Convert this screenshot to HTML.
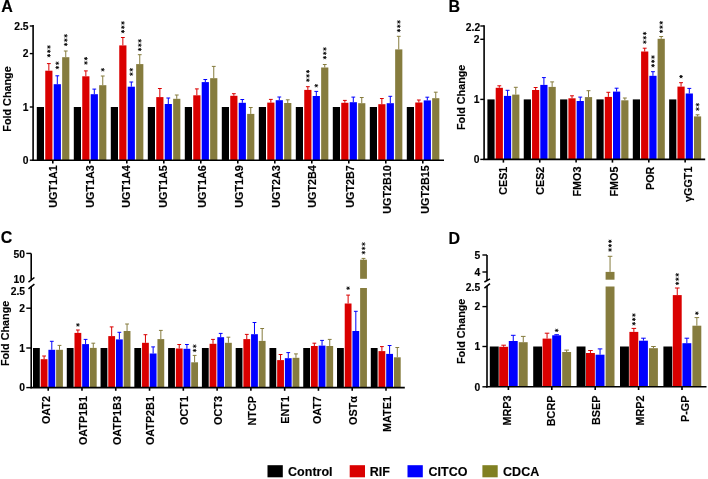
<!DOCTYPE html>
<html><head><meta charset="utf-8"><style>
html,body{margin:0;padding:0;background:#fff;}
svg{display:block;will-change:transform;}
text{font-family:"Liberation Sans",sans-serif;font-weight:bold;fill:#000;stroke:#000;stroke-width:0.15px;}
</style></head><body>
<svg width="708" height="479" viewBox="0 0 708 479">
<rect x="0" y="0" width="708" height="479" fill="#fff"/>
<rect x="36.80" y="107.00" width="7.20" height="53.20" fill="#000"/>
<rect x="45.25" y="70.70" width="7.20" height="89.50" fill="rgb(218,0,0)"/>
<line x1="48.85" y1="63.60" x2="48.85" y2="70.70" stroke="rgb(218,0,0)" stroke-width="1.0"/>
<line x1="46.95" y1="63.60" x2="50.75" y2="63.60" stroke="rgb(218,0,0)" stroke-width="1.0"/>
<rect x="53.70" y="84.20" width="7.20" height="76.00" fill="#0000ff"/>
<line x1="57.30" y1="75.80" x2="57.30" y2="84.20" stroke="#0000ff" stroke-width="1.0"/>
<line x1="55.40" y1="75.80" x2="59.20" y2="75.80" stroke="#0000ff" stroke-width="1.0"/>
<rect x="62.15" y="57.20" width="7.20" height="103.00" fill="rgb(134,124,62)"/>
<line x1="65.75" y1="51.00" x2="65.75" y2="57.20" stroke="rgb(134,124,62)" stroke-width="1.0"/>
<line x1="63.85" y1="51.00" x2="67.65" y2="51.00" stroke="rgb(134,124,62)" stroke-width="1.0"/>
<rect x="73.80" y="107.00" width="7.20" height="53.20" fill="#000"/>
<rect x="82.25" y="76.30" width="7.20" height="83.90" fill="rgb(218,0,0)"/>
<line x1="85.85" y1="70.90" x2="85.85" y2="76.30" stroke="rgb(218,0,0)" stroke-width="1.0"/>
<line x1="83.95" y1="70.90" x2="87.75" y2="70.90" stroke="rgb(218,0,0)" stroke-width="1.0"/>
<rect x="90.70" y="94.20" width="7.20" height="66.00" fill="#0000ff"/>
<line x1="94.30" y1="89.10" x2="94.30" y2="94.20" stroke="#0000ff" stroke-width="1.0"/>
<line x1="92.40" y1="89.10" x2="96.20" y2="89.10" stroke="#0000ff" stroke-width="1.0"/>
<rect x="99.15" y="85.20" width="7.20" height="75.00" fill="rgb(134,124,62)"/>
<line x1="102.75" y1="76.00" x2="102.75" y2="85.20" stroke="rgb(134,124,62)" stroke-width="1.0"/>
<line x1="100.85" y1="76.00" x2="104.65" y2="76.00" stroke="rgb(134,124,62)" stroke-width="1.0"/>
<rect x="110.80" y="107.00" width="7.20" height="53.20" fill="#000"/>
<rect x="119.25" y="45.40" width="7.20" height="114.80" fill="rgb(218,0,0)"/>
<line x1="122.85" y1="37.50" x2="122.85" y2="45.40" stroke="rgb(218,0,0)" stroke-width="1.0"/>
<line x1="120.95" y1="37.50" x2="124.75" y2="37.50" stroke="rgb(218,0,0)" stroke-width="1.0"/>
<rect x="127.70" y="86.70" width="7.20" height="73.50" fill="#0000ff"/>
<line x1="131.30" y1="82.00" x2="131.30" y2="86.70" stroke="#0000ff" stroke-width="1.0"/>
<line x1="129.40" y1="82.00" x2="133.20" y2="82.00" stroke="#0000ff" stroke-width="1.0"/>
<rect x="136.15" y="64.10" width="7.20" height="96.10" fill="rgb(134,124,62)"/>
<line x1="139.75" y1="54.70" x2="139.75" y2="64.10" stroke="rgb(134,124,62)" stroke-width="1.0"/>
<line x1="137.85" y1="54.70" x2="141.65" y2="54.70" stroke="rgb(134,124,62)" stroke-width="1.0"/>
<rect x="147.80" y="107.00" width="7.20" height="53.20" fill="#000"/>
<rect x="156.25" y="97.10" width="7.20" height="63.10" fill="rgb(218,0,0)"/>
<line x1="159.85" y1="88.50" x2="159.85" y2="97.10" stroke="rgb(218,0,0)" stroke-width="1.0"/>
<line x1="157.95" y1="88.50" x2="161.75" y2="88.50" stroke="rgb(218,0,0)" stroke-width="1.0"/>
<rect x="164.70" y="104.00" width="7.20" height="56.20" fill="#0000ff"/>
<line x1="168.30" y1="98.00" x2="168.30" y2="104.00" stroke="#0000ff" stroke-width="1.0"/>
<line x1="166.40" y1="98.00" x2="170.20" y2="98.00" stroke="#0000ff" stroke-width="1.0"/>
<rect x="173.15" y="98.80" width="7.20" height="61.40" fill="rgb(134,124,62)"/>
<line x1="176.75" y1="95.00" x2="176.75" y2="98.80" stroke="rgb(134,124,62)" stroke-width="1.0"/>
<line x1="174.85" y1="95.00" x2="178.65" y2="95.00" stroke="rgb(134,124,62)" stroke-width="1.0"/>
<rect x="184.80" y="107.00" width="7.20" height="53.20" fill="#000"/>
<rect x="193.25" y="95.30" width="7.20" height="64.90" fill="rgb(218,0,0)"/>
<line x1="196.85" y1="88.90" x2="196.85" y2="95.30" stroke="rgb(218,0,0)" stroke-width="1.0"/>
<line x1="194.95" y1="88.90" x2="198.75" y2="88.90" stroke="rgb(218,0,0)" stroke-width="1.0"/>
<rect x="201.70" y="82.10" width="7.20" height="78.10" fill="#0000ff"/>
<line x1="205.30" y1="79.50" x2="205.30" y2="82.10" stroke="#0000ff" stroke-width="1.0"/>
<line x1="203.40" y1="79.50" x2="207.20" y2="79.50" stroke="#0000ff" stroke-width="1.0"/>
<rect x="210.15" y="78.20" width="7.20" height="82.00" fill="rgb(134,124,62)"/>
<line x1="213.75" y1="66.40" x2="213.75" y2="78.20" stroke="rgb(134,124,62)" stroke-width="1.0"/>
<line x1="211.85" y1="66.40" x2="215.65" y2="66.40" stroke="rgb(134,124,62)" stroke-width="1.0"/>
<rect x="221.80" y="107.00" width="7.20" height="53.20" fill="#000"/>
<rect x="230.25" y="95.80" width="7.20" height="64.40" fill="rgb(218,0,0)"/>
<line x1="233.85" y1="93.70" x2="233.85" y2="95.80" stroke="rgb(218,0,0)" stroke-width="1.0"/>
<line x1="231.95" y1="93.70" x2="235.75" y2="93.70" stroke="rgb(218,0,0)" stroke-width="1.0"/>
<rect x="238.70" y="102.80" width="7.20" height="57.40" fill="#0000ff"/>
<line x1="242.30" y1="99.50" x2="242.30" y2="102.80" stroke="#0000ff" stroke-width="1.0"/>
<line x1="240.40" y1="99.50" x2="244.20" y2="99.50" stroke="#0000ff" stroke-width="1.0"/>
<rect x="247.15" y="113.90" width="7.20" height="46.30" fill="rgb(134,124,62)"/>
<line x1="250.75" y1="107.50" x2="250.75" y2="113.90" stroke="rgb(134,124,62)" stroke-width="1.0"/>
<line x1="248.85" y1="107.50" x2="252.65" y2="107.50" stroke="rgb(134,124,62)" stroke-width="1.0"/>
<rect x="258.80" y="107.00" width="7.20" height="53.20" fill="#000"/>
<rect x="267.25" y="102.60" width="7.20" height="57.60" fill="rgb(218,0,0)"/>
<line x1="270.85" y1="99.40" x2="270.85" y2="102.60" stroke="rgb(218,0,0)" stroke-width="1.0"/>
<line x1="268.95" y1="99.40" x2="272.75" y2="99.40" stroke="rgb(218,0,0)" stroke-width="1.0"/>
<rect x="275.70" y="100.20" width="7.20" height="60.00" fill="#0000ff"/>
<line x1="279.30" y1="97.00" x2="279.30" y2="100.20" stroke="#0000ff" stroke-width="1.0"/>
<line x1="277.40" y1="97.00" x2="281.20" y2="97.00" stroke="#0000ff" stroke-width="1.0"/>
<rect x="284.15" y="103.00" width="7.20" height="57.20" fill="rgb(134,124,62)"/>
<line x1="287.75" y1="99.80" x2="287.75" y2="103.00" stroke="rgb(134,124,62)" stroke-width="1.0"/>
<line x1="285.85" y1="99.80" x2="289.65" y2="99.80" stroke="rgb(134,124,62)" stroke-width="1.0"/>
<rect x="295.80" y="107.00" width="7.20" height="53.20" fill="#000"/>
<rect x="304.25" y="89.90" width="7.20" height="70.30" fill="rgb(218,0,0)"/>
<line x1="307.85" y1="86.70" x2="307.85" y2="89.90" stroke="rgb(218,0,0)" stroke-width="1.0"/>
<line x1="305.95" y1="86.70" x2="309.75" y2="86.70" stroke="rgb(218,0,0)" stroke-width="1.0"/>
<rect x="312.70" y="96.00" width="7.20" height="64.20" fill="#0000ff"/>
<line x1="316.30" y1="91.40" x2="316.30" y2="96.00" stroke="#0000ff" stroke-width="1.0"/>
<line x1="314.40" y1="91.40" x2="318.20" y2="91.40" stroke="#0000ff" stroke-width="1.0"/>
<rect x="321.15" y="67.50" width="7.20" height="92.70" fill="rgb(134,124,62)"/>
<line x1="324.75" y1="64.50" x2="324.75" y2="67.50" stroke="rgb(134,124,62)" stroke-width="1.0"/>
<line x1="322.85" y1="64.50" x2="326.65" y2="64.50" stroke="rgb(134,124,62)" stroke-width="1.0"/>
<rect x="332.80" y="107.00" width="7.20" height="53.20" fill="#000"/>
<rect x="341.25" y="102.80" width="7.20" height="57.40" fill="rgb(218,0,0)"/>
<line x1="344.85" y1="100.40" x2="344.85" y2="102.80" stroke="rgb(218,0,0)" stroke-width="1.0"/>
<line x1="342.95" y1="100.40" x2="346.75" y2="100.40" stroke="rgb(218,0,0)" stroke-width="1.0"/>
<rect x="349.70" y="102.20" width="7.20" height="58.00" fill="#0000ff"/>
<line x1="353.30" y1="97.10" x2="353.30" y2="102.20" stroke="#0000ff" stroke-width="1.0"/>
<line x1="351.40" y1="97.10" x2="355.20" y2="97.10" stroke="#0000ff" stroke-width="1.0"/>
<rect x="358.15" y="103.20" width="7.20" height="57.00" fill="rgb(134,124,62)"/>
<line x1="361.75" y1="97.50" x2="361.75" y2="103.20" stroke="rgb(134,124,62)" stroke-width="1.0"/>
<line x1="359.85" y1="97.50" x2="363.65" y2="97.50" stroke="rgb(134,124,62)" stroke-width="1.0"/>
<rect x="369.80" y="107.00" width="7.20" height="53.20" fill="#000"/>
<rect x="378.25" y="104.20" width="7.20" height="56.00" fill="rgb(218,0,0)"/>
<line x1="381.85" y1="98.50" x2="381.85" y2="104.20" stroke="rgb(218,0,0)" stroke-width="1.0"/>
<line x1="379.95" y1="98.50" x2="383.75" y2="98.50" stroke="rgb(218,0,0)" stroke-width="1.0"/>
<rect x="386.70" y="103.20" width="7.20" height="57.00" fill="#0000ff"/>
<line x1="390.30" y1="96.30" x2="390.30" y2="103.20" stroke="#0000ff" stroke-width="1.0"/>
<line x1="388.40" y1="96.30" x2="392.20" y2="96.30" stroke="#0000ff" stroke-width="1.0"/>
<rect x="395.15" y="49.40" width="7.20" height="110.80" fill="rgb(134,124,62)"/>
<line x1="398.75" y1="36.30" x2="398.75" y2="49.40" stroke="rgb(134,124,62)" stroke-width="1.0"/>
<line x1="396.85" y1="36.30" x2="400.65" y2="36.30" stroke="rgb(134,124,62)" stroke-width="1.0"/>
<rect x="406.80" y="107.00" width="7.20" height="53.20" fill="#000"/>
<rect x="415.25" y="102.50" width="7.20" height="57.70" fill="rgb(218,0,0)"/>
<line x1="418.85" y1="100.00" x2="418.85" y2="102.50" stroke="rgb(218,0,0)" stroke-width="1.0"/>
<line x1="416.95" y1="100.00" x2="420.75" y2="100.00" stroke="rgb(218,0,0)" stroke-width="1.0"/>
<rect x="423.70" y="100.40" width="7.20" height="59.80" fill="#0000ff"/>
<line x1="427.30" y1="97.20" x2="427.30" y2="100.40" stroke="#0000ff" stroke-width="1.0"/>
<line x1="425.40" y1="97.20" x2="429.20" y2="97.20" stroke="#0000ff" stroke-width="1.0"/>
<rect x="432.15" y="98.20" width="7.20" height="62.00" fill="rgb(134,124,62)"/>
<line x1="435.75" y1="92.20" x2="435.75" y2="98.20" stroke="rgb(134,124,62)" stroke-width="1.0"/>
<line x1="433.85" y1="92.20" x2="437.65" y2="92.20" stroke="rgb(134,124,62)" stroke-width="1.0"/>
<path d="M47.00 47.00L50.70 47.00M47.93 45.40L49.77 48.60M49.77 45.40L47.93 48.60" stroke="#000" stroke-width="0.85" fill="none"/>
<path d="M47.00 51.30L50.70 51.30M47.93 49.70L49.77 52.90M49.77 49.70L47.93 52.90" stroke="#000" stroke-width="0.85" fill="none"/>
<path d="M47.00 55.60L50.70 55.60M47.93 54.00L49.77 57.20M49.77 54.00L47.93 57.20" stroke="#000" stroke-width="0.85" fill="none"/>
<path d="M55.45 63.25L59.15 63.25M56.38 61.65L58.22 64.85M58.22 61.65L56.38 64.85" stroke="#000" stroke-width="0.85" fill="none"/>
<path d="M55.45 67.55L59.15 67.55M56.38 65.95L58.22 69.15M58.22 65.95L56.38 69.15" stroke="#000" stroke-width="0.85" fill="none"/>
<path d="M63.90 35.85L67.60 35.85M64.83 34.25L66.67 37.45M66.67 34.25L64.83 37.45" stroke="#000" stroke-width="0.85" fill="none"/>
<path d="M63.90 40.15L67.60 40.15M64.83 38.55L66.67 41.75M66.67 38.55L64.83 41.75" stroke="#000" stroke-width="0.85" fill="none"/>
<path d="M63.90 44.45L67.60 44.45M64.83 42.85L66.67 46.05M66.67 42.85L64.83 46.05" stroke="#000" stroke-width="0.85" fill="none"/>
<path d="M84.00 58.65L87.70 58.65M84.92 57.05L86.77 60.25M86.77 57.05L84.92 60.25" stroke="#000" stroke-width="0.85" fill="none"/>
<path d="M84.00 62.95L87.70 62.95M84.92 61.35L86.77 64.55M86.77 61.35L84.92 64.55" stroke="#000" stroke-width="0.85" fill="none"/>
<path d="M100.90 69.75L104.60 69.75M101.82 68.15L103.67 71.35M103.67 68.15L101.82 71.35" stroke="#000" stroke-width="0.85" fill="none"/>
<path d="M121.00 22.95L124.70 22.95M121.92 21.35L123.77 24.55M123.77 21.35L121.92 24.55" stroke="#000" stroke-width="0.85" fill="none"/>
<path d="M121.00 27.25L124.70 27.25M121.92 25.65L123.77 28.85M123.77 25.65L121.92 28.85" stroke="#000" stroke-width="0.85" fill="none"/>
<path d="M121.00 31.55L124.70 31.55M121.92 29.95L123.77 33.15M123.77 29.95L121.92 33.15" stroke="#000" stroke-width="0.85" fill="none"/>
<path d="M129.45 69.80L133.15 69.80M130.38 68.20L132.23 71.40M132.23 68.20L130.38 71.40" stroke="#000" stroke-width="0.85" fill="none"/>
<path d="M129.45 74.10L133.15 74.10M130.38 72.50L132.23 75.70M132.23 72.50L130.38 75.70" stroke="#000" stroke-width="0.85" fill="none"/>
<path d="M137.90 40.85L141.60 40.85M138.82 39.25L140.68 42.45M140.68 39.25L138.82 42.45" stroke="#000" stroke-width="0.85" fill="none"/>
<path d="M137.90 45.15L141.60 45.15M138.82 43.55L140.68 46.75M140.68 43.55L138.82 46.75" stroke="#000" stroke-width="0.85" fill="none"/>
<path d="M137.90 49.45L141.60 49.45M138.82 47.85L140.68 51.05M140.68 47.85L138.82 51.05" stroke="#000" stroke-width="0.85" fill="none"/>
<path d="M306.00 71.60L309.70 71.60M306.93 70.00L308.78 73.20M308.78 70.00L306.93 73.20" stroke="#000" stroke-width="0.85" fill="none"/>
<path d="M306.00 75.90L309.70 75.90M306.93 74.30L308.78 77.50M308.78 74.30L306.93 77.50" stroke="#000" stroke-width="0.85" fill="none"/>
<path d="M306.00 80.20L309.70 80.20M306.93 78.60L308.78 81.80M308.78 78.60L306.93 81.80" stroke="#000" stroke-width="0.85" fill="none"/>
<path d="M314.45 85.70L318.15 85.70M315.38 84.10L317.23 87.30M317.23 84.10L315.38 87.30" stroke="#000" stroke-width="0.85" fill="none"/>
<path d="M322.90 49.00L326.60 49.00M323.83 47.40L325.68 50.60M325.68 47.40L323.83 50.60" stroke="#000" stroke-width="0.85" fill="none"/>
<path d="M322.90 53.30L326.60 53.30M323.83 51.70L325.68 54.90M325.68 51.70L323.83 54.90" stroke="#000" stroke-width="0.85" fill="none"/>
<path d="M322.90 57.60L326.60 57.60M323.83 56.00L325.68 59.20M325.68 56.00L323.83 59.20" stroke="#000" stroke-width="0.85" fill="none"/>
<path d="M396.90 21.95L400.60 21.95M397.83 20.35L399.68 23.55M399.68 20.35L397.83 23.55" stroke="#000" stroke-width="0.85" fill="none"/>
<path d="M396.90 26.25L400.60 26.25M397.83 24.65L399.68 27.85M399.68 24.65L397.83 27.85" stroke="#000" stroke-width="0.85" fill="none"/>
<path d="M396.90 30.55L400.60 30.55M397.83 28.95L399.68 32.15M399.68 28.95L397.83 32.15" stroke="#000" stroke-width="0.85" fill="none"/>
<line x1="33.10" y1="25.00" x2="33.10" y2="161.00" stroke="#000" stroke-width="1.6"/>
<line x1="32.30" y1="160.20" x2="444.00" y2="160.20" stroke="#000" stroke-width="1.6"/>
<text x="28.50" y="29.70" font-size="10.3" text-anchor="end">2.5</text>
<text x="28.50" y="57.30" font-size="10.3" text-anchor="end">2</text>
<text x="28.50" y="110.70" font-size="10.3" text-anchor="end">1</text>
<text x="28.50" y="163.90" font-size="10.3" text-anchor="end">0</text>
<line x1="29.80" y1="26.00" x2="33.10" y2="26.00" stroke="#000" stroke-width="1.4"/>
<line x1="29.80" y1="53.60" x2="33.10" y2="53.60" stroke="#000" stroke-width="1.4"/>
<line x1="29.80" y1="107.00" x2="33.10" y2="107.00" stroke="#000" stroke-width="1.4"/>
<line x1="29.80" y1="160.20" x2="33.10" y2="160.20" stroke="#000" stroke-width="1.4"/>
<line x1="52.80" y1="160.20" x2="52.80" y2="163.40" stroke="#000" stroke-width="1.6"/>
<text x="56.70" y="165.20" font-size="10.8" text-anchor="end" transform="rotate(-90 56.70 165.20)">UGT1A1</text>
<line x1="89.80" y1="160.20" x2="89.80" y2="163.40" stroke="#000" stroke-width="1.6"/>
<text x="93.90" y="165.20" font-size="10.8" text-anchor="end" transform="rotate(-90 93.90 165.20)">UGT1A3</text>
<line x1="126.80" y1="160.20" x2="126.80" y2="163.40" stroke="#000" stroke-width="1.6"/>
<text x="130.40" y="165.20" font-size="10.8" text-anchor="end" transform="rotate(-90 130.40 165.20)">UGT1A4</text>
<line x1="163.80" y1="160.20" x2="163.80" y2="163.40" stroke="#000" stroke-width="1.6"/>
<text x="166.60" y="165.20" font-size="10.8" text-anchor="end" transform="rotate(-90 166.60 165.20)">UGT1A5</text>
<line x1="200.80" y1="160.20" x2="200.80" y2="163.40" stroke="#000" stroke-width="1.6"/>
<text x="205.60" y="165.20" font-size="10.8" text-anchor="end" transform="rotate(-90 205.60 165.20)">UGT1A6</text>
<line x1="237.80" y1="160.20" x2="237.80" y2="163.40" stroke="#000" stroke-width="1.6"/>
<text x="242.60" y="165.20" font-size="10.8" text-anchor="end" transform="rotate(-90 242.60 165.20)">UGT1A9</text>
<line x1="274.80" y1="160.20" x2="274.80" y2="163.40" stroke="#000" stroke-width="1.6"/>
<text x="279.60" y="165.20" font-size="10.8" text-anchor="end" transform="rotate(-90 279.60 165.20)">UGT2A3</text>
<line x1="311.80" y1="160.20" x2="311.80" y2="163.40" stroke="#000" stroke-width="1.6"/>
<text x="316.00" y="165.20" font-size="10.8" text-anchor="end" transform="rotate(-90 316.00 165.20)">UGT2B4</text>
<line x1="348.80" y1="160.20" x2="348.80" y2="163.40" stroke="#000" stroke-width="1.6"/>
<text x="353.60" y="165.20" font-size="10.8" text-anchor="end" transform="rotate(-90 353.60 165.20)">UGT2B7</text>
<line x1="385.80" y1="160.20" x2="385.80" y2="163.40" stroke="#000" stroke-width="1.6"/>
<text x="390.60" y="165.20" font-size="10.8" text-anchor="end" transform="rotate(-90 390.60 165.20)">UGT2B10</text>
<line x1="422.80" y1="160.20" x2="422.80" y2="163.40" stroke="#000" stroke-width="1.6"/>
<text x="428.90" y="165.20" font-size="10.8" text-anchor="end" transform="rotate(-90 428.90 165.20)">UGT2B15</text>
<text x="11.40" y="99.00" font-size="10.8" text-anchor="middle" transform="rotate(-90 11.40 99.00)">Fold Change</text>
<text x="1.30" y="12.40" font-size="16" text-anchor="start">A</text>
<rect x="487.40" y="99.40" width="7.20" height="59.80" fill="#000"/>
<rect x="495.70" y="87.80" width="7.20" height="71.40" fill="rgb(218,0,0)"/>
<line x1="499.30" y1="85.80" x2="499.30" y2="87.80" stroke="rgb(218,0,0)" stroke-width="1.0"/>
<line x1="497.35" y1="85.80" x2="501.25" y2="85.80" stroke="rgb(218,0,0)" stroke-width="1.0"/>
<rect x="503.95" y="95.90" width="7.20" height="63.30" fill="#0000ff"/>
<line x1="507.55" y1="90.30" x2="507.55" y2="95.90" stroke="#0000ff" stroke-width="1.0"/>
<line x1="505.60" y1="90.30" x2="509.50" y2="90.30" stroke="#0000ff" stroke-width="1.0"/>
<rect x="512.20" y="94.60" width="7.20" height="64.60" fill="rgb(134,124,62)"/>
<line x1="515.80" y1="87.30" x2="515.80" y2="94.60" stroke="rgb(134,124,62)" stroke-width="1.0"/>
<line x1="513.85" y1="87.30" x2="517.75" y2="87.30" stroke="rgb(134,124,62)" stroke-width="1.0"/>
<rect x="523.75" y="99.40" width="7.20" height="59.80" fill="#000"/>
<rect x="532.05" y="90.00" width="7.20" height="69.20" fill="rgb(218,0,0)"/>
<line x1="535.65" y1="87.50" x2="535.65" y2="90.00" stroke="rgb(218,0,0)" stroke-width="1.0"/>
<line x1="533.70" y1="87.50" x2="537.60" y2="87.50" stroke="rgb(218,0,0)" stroke-width="1.0"/>
<rect x="540.30" y="84.90" width="7.20" height="74.30" fill="#0000ff"/>
<line x1="543.90" y1="77.60" x2="543.90" y2="84.90" stroke="#0000ff" stroke-width="1.0"/>
<line x1="541.95" y1="77.60" x2="545.85" y2="77.60" stroke="#0000ff" stroke-width="1.0"/>
<rect x="548.55" y="86.90" width="7.20" height="72.30" fill="rgb(134,124,62)"/>
<line x1="552.15" y1="81.90" x2="552.15" y2="86.90" stroke="rgb(134,124,62)" stroke-width="1.0"/>
<line x1="550.20" y1="81.90" x2="554.10" y2="81.90" stroke="rgb(134,124,62)" stroke-width="1.0"/>
<rect x="560.10" y="99.40" width="7.20" height="59.80" fill="#000"/>
<rect x="568.40" y="98.30" width="7.20" height="60.90" fill="rgb(218,0,0)"/>
<line x1="572.00" y1="95.80" x2="572.00" y2="98.30" stroke="rgb(218,0,0)" stroke-width="1.0"/>
<line x1="570.05" y1="95.80" x2="573.95" y2="95.80" stroke="rgb(218,0,0)" stroke-width="1.0"/>
<rect x="576.65" y="101.00" width="7.20" height="58.20" fill="#0000ff"/>
<line x1="580.25" y1="97.10" x2="580.25" y2="101.00" stroke="#0000ff" stroke-width="1.0"/>
<line x1="578.30" y1="97.10" x2="582.20" y2="97.10" stroke="#0000ff" stroke-width="1.0"/>
<rect x="584.90" y="97.10" width="7.20" height="62.10" fill="rgb(134,124,62)"/>
<line x1="588.50" y1="90.70" x2="588.50" y2="97.10" stroke="rgb(134,124,62)" stroke-width="1.0"/>
<line x1="586.55" y1="90.70" x2="590.45" y2="90.70" stroke="rgb(134,124,62)" stroke-width="1.0"/>
<rect x="596.45" y="99.40" width="7.20" height="59.80" fill="#000"/>
<rect x="604.75" y="96.90" width="7.20" height="62.30" fill="rgb(218,0,0)"/>
<line x1="608.35" y1="92.30" x2="608.35" y2="96.90" stroke="rgb(218,0,0)" stroke-width="1.0"/>
<line x1="606.40" y1="92.30" x2="610.30" y2="92.30" stroke="rgb(218,0,0)" stroke-width="1.0"/>
<rect x="613.00" y="91.60" width="7.20" height="67.60" fill="#0000ff"/>
<line x1="616.60" y1="88.20" x2="616.60" y2="91.60" stroke="#0000ff" stroke-width="1.0"/>
<line x1="614.65" y1="88.20" x2="618.55" y2="88.20" stroke="#0000ff" stroke-width="1.0"/>
<rect x="621.25" y="100.30" width="7.20" height="58.90" fill="rgb(134,124,62)"/>
<line x1="624.85" y1="98.00" x2="624.85" y2="100.30" stroke="rgb(134,124,62)" stroke-width="1.0"/>
<line x1="622.90" y1="98.00" x2="626.80" y2="98.00" stroke="rgb(134,124,62)" stroke-width="1.0"/>
<rect x="632.80" y="99.40" width="7.20" height="59.80" fill="#000"/>
<rect x="641.10" y="51.50" width="7.20" height="107.70" fill="rgb(218,0,0)"/>
<line x1="644.70" y1="48.20" x2="644.70" y2="51.50" stroke="rgb(218,0,0)" stroke-width="1.0"/>
<line x1="642.75" y1="48.20" x2="646.65" y2="48.20" stroke="rgb(218,0,0)" stroke-width="1.0"/>
<rect x="649.35" y="75.80" width="7.20" height="83.40" fill="#0000ff"/>
<line x1="652.95" y1="71.70" x2="652.95" y2="75.80" stroke="#0000ff" stroke-width="1.0"/>
<line x1="651.00" y1="71.70" x2="654.90" y2="71.70" stroke="#0000ff" stroke-width="1.0"/>
<rect x="657.60" y="38.80" width="7.20" height="120.40" fill="rgb(134,124,62)"/>
<line x1="661.20" y1="36.50" x2="661.20" y2="38.80" stroke="rgb(134,124,62)" stroke-width="1.0"/>
<line x1="659.25" y1="36.50" x2="663.15" y2="36.50" stroke="rgb(134,124,62)" stroke-width="1.0"/>
<rect x="669.15" y="99.40" width="7.20" height="59.80" fill="#000"/>
<rect x="677.45" y="86.60" width="7.20" height="72.60" fill="rgb(218,0,0)"/>
<line x1="681.05" y1="82.70" x2="681.05" y2="86.60" stroke="rgb(218,0,0)" stroke-width="1.0"/>
<line x1="679.10" y1="82.70" x2="683.00" y2="82.70" stroke="rgb(218,0,0)" stroke-width="1.0"/>
<rect x="685.70" y="93.50" width="7.20" height="65.70" fill="#0000ff"/>
<line x1="689.30" y1="88.40" x2="689.30" y2="93.50" stroke="#0000ff" stroke-width="1.0"/>
<line x1="687.35" y1="88.40" x2="691.25" y2="88.40" stroke="#0000ff" stroke-width="1.0"/>
<rect x="693.95" y="116.40" width="7.20" height="42.80" fill="rgb(134,124,62)"/>
<line x1="697.55" y1="114.80" x2="697.55" y2="116.40" stroke="rgb(134,124,62)" stroke-width="1.0"/>
<line x1="695.60" y1="114.80" x2="699.50" y2="114.80" stroke="rgb(134,124,62)" stroke-width="1.0"/>
<path d="M642.85 33.50L646.55 33.50M643.77 31.90L645.62 35.10M645.62 31.90L643.77 35.10" stroke="#000" stroke-width="0.85" fill="none"/>
<path d="M642.85 37.80L646.55 37.80M643.77 36.20L645.62 39.40M645.62 36.20L643.77 39.40" stroke="#000" stroke-width="0.85" fill="none"/>
<path d="M642.85 42.10L646.55 42.10M643.77 40.50L645.62 43.70M645.62 40.50L643.77 43.70" stroke="#000" stroke-width="0.85" fill="none"/>
<path d="M651.10 57.05L654.80 57.05M652.02 55.45L653.87 58.65M653.87 55.45L652.02 58.65" stroke="#000" stroke-width="0.85" fill="none"/>
<path d="M651.10 61.35L654.80 61.35M652.02 59.75L653.87 62.95M653.87 59.75L652.02 62.95" stroke="#000" stroke-width="0.85" fill="none"/>
<path d="M651.10 65.65L654.80 65.65M652.02 64.05L653.87 67.25M653.87 64.05L652.02 67.25" stroke="#000" stroke-width="0.85" fill="none"/>
<path d="M659.35 22.80L663.05 22.80M660.27 21.20L662.12 24.40M662.12 21.20L660.27 24.40" stroke="#000" stroke-width="0.85" fill="none"/>
<path d="M659.35 27.10L663.05 27.10M660.27 25.50L662.12 28.70M662.12 25.50L660.27 28.70" stroke="#000" stroke-width="0.85" fill="none"/>
<path d="M659.35 31.40L663.05 31.40M660.27 29.80L662.12 33.00M662.12 29.80L660.27 33.00" stroke="#000" stroke-width="0.85" fill="none"/>
<path d="M679.20 76.60L682.90 76.60M680.12 75.00L681.97 78.20M681.97 75.00L680.12 78.20" stroke="#000" stroke-width="0.85" fill="none"/>
<path d="M695.70 104.75L699.40 104.75M696.62 103.15L698.47 106.35M698.47 103.15L696.62 106.35" stroke="#000" stroke-width="0.85" fill="none"/>
<path d="M695.70 109.05L699.40 109.05M696.62 107.45L698.47 110.65M698.47 107.45L696.62 110.65" stroke="#000" stroke-width="0.85" fill="none"/>
<line x1="484.10" y1="25.30" x2="484.10" y2="160.00" stroke="#000" stroke-width="1.6"/>
<line x1="483.30" y1="159.40" x2="705.20" y2="159.40" stroke="#000" stroke-width="1.6"/>
<text x="480.20" y="30.90" font-size="10.3" text-anchor="end">2.2</text>
<text x="479.50" y="43.00" font-size="10.3" text-anchor="end">2</text>
<text x="479.50" y="103.10" font-size="10.3" text-anchor="end">1</text>
<text x="479.50" y="163.30" font-size="10.3" text-anchor="end">0</text>
<line x1="480.30" y1="26.00" x2="484.10" y2="26.00" stroke="#000" stroke-width="1.4"/>
<line x1="480.30" y1="39.30" x2="484.10" y2="39.30" stroke="#000" stroke-width="1.4"/>
<line x1="480.30" y1="99.40" x2="484.10" y2="99.40" stroke="#000" stroke-width="1.4"/>
<line x1="480.30" y1="159.40" x2="484.10" y2="159.40" stroke="#000" stroke-width="1.4"/>
<line x1="503.40" y1="159.40" x2="503.40" y2="162.60" stroke="#000" stroke-width="1.6"/>
<text x="506.90" y="166.60" font-size="10.8" text-anchor="end" transform="rotate(-90 506.90 166.60)">CES1</text>
<line x1="539.75" y1="159.40" x2="539.75" y2="162.60" stroke="#000" stroke-width="1.6"/>
<text x="544.45" y="166.60" font-size="10.8" text-anchor="end" transform="rotate(-90 544.45 166.60)">CES2</text>
<line x1="576.10" y1="159.40" x2="576.10" y2="162.60" stroke="#000" stroke-width="1.6"/>
<text x="581.30" y="166.60" font-size="10.8" text-anchor="end" transform="rotate(-90 581.30 166.60)">FMO3</text>
<line x1="612.45" y1="159.40" x2="612.45" y2="162.60" stroke="#000" stroke-width="1.6"/>
<text x="618.05" y="166.60" font-size="10.8" text-anchor="end" transform="rotate(-90 618.05 166.60)">FMO5</text>
<line x1="648.80" y1="159.40" x2="648.80" y2="162.60" stroke="#000" stroke-width="1.6"/>
<text x="653.60" y="166.60" font-size="10.8" text-anchor="end" transform="rotate(-90 653.60 166.60)">POR</text>
<line x1="685.15" y1="159.40" x2="685.15" y2="162.60" stroke="#000" stroke-width="1.6"/>
<text x="691.85" y="166.60" font-size="10.8" text-anchor="end" transform="rotate(-90 691.85 166.60)">&#947;GGT1</text>
<text x="465.30" y="97.30" font-size="10.8" text-anchor="middle" transform="rotate(-90 465.30 97.30)">Fold Change</text>
<text x="448.40" y="12.20" font-size="16" text-anchor="start">B</text>
<rect x="33.00" y="348.00" width="6.80" height="39.50" fill="#000"/>
<rect x="40.70" y="359.20" width="6.80" height="28.30" fill="rgb(218,0,0)"/>
<line x1="44.10" y1="356.00" x2="44.10" y2="359.20" stroke="rgb(218,0,0)" stroke-width="1.0"/>
<line x1="42.20" y1="356.00" x2="46.00" y2="356.00" stroke="rgb(218,0,0)" stroke-width="1.0"/>
<rect x="48.40" y="349.80" width="6.80" height="37.70" fill="#0000ff"/>
<line x1="51.80" y1="341.30" x2="51.80" y2="349.80" stroke="#0000ff" stroke-width="1.0"/>
<line x1="49.90" y1="341.30" x2="53.70" y2="341.30" stroke="#0000ff" stroke-width="1.0"/>
<rect x="56.10" y="349.80" width="6.80" height="37.70" fill="rgb(134,124,62)"/>
<line x1="59.50" y1="345.40" x2="59.50" y2="349.80" stroke="rgb(134,124,62)" stroke-width="1.0"/>
<line x1="57.60" y1="345.40" x2="61.40" y2="345.40" stroke="rgb(134,124,62)" stroke-width="1.0"/>
<rect x="66.78" y="348.00" width="6.80" height="39.50" fill="#000"/>
<rect x="74.48" y="332.90" width="6.80" height="54.60" fill="rgb(218,0,0)"/>
<line x1="77.88" y1="330.00" x2="77.88" y2="332.90" stroke="rgb(218,0,0)" stroke-width="1.0"/>
<line x1="75.98" y1="330.00" x2="79.78" y2="330.00" stroke="rgb(218,0,0)" stroke-width="1.0"/>
<rect x="82.18" y="344.10" width="6.80" height="43.40" fill="#0000ff"/>
<line x1="85.58" y1="339.40" x2="85.58" y2="344.10" stroke="#0000ff" stroke-width="1.0"/>
<line x1="83.68" y1="339.40" x2="87.48" y2="339.40" stroke="#0000ff" stroke-width="1.0"/>
<rect x="89.88" y="347.90" width="6.80" height="39.60" fill="rgb(134,124,62)"/>
<line x1="93.28" y1="343.20" x2="93.28" y2="347.90" stroke="rgb(134,124,62)" stroke-width="1.0"/>
<line x1="91.38" y1="343.20" x2="95.18" y2="343.20" stroke="rgb(134,124,62)" stroke-width="1.0"/>
<rect x="100.56" y="348.00" width="6.80" height="39.50" fill="#000"/>
<rect x="108.26" y="336.10" width="6.80" height="51.40" fill="rgb(218,0,0)"/>
<line x1="111.66" y1="326.90" x2="111.66" y2="336.10" stroke="rgb(218,0,0)" stroke-width="1.0"/>
<line x1="109.76" y1="326.90" x2="113.56" y2="326.90" stroke="rgb(218,0,0)" stroke-width="1.0"/>
<rect x="115.96" y="339.40" width="6.80" height="48.10" fill="#0000ff"/>
<line x1="119.36" y1="332.30" x2="119.36" y2="339.40" stroke="#0000ff" stroke-width="1.0"/>
<line x1="117.46" y1="332.30" x2="121.26" y2="332.30" stroke="#0000ff" stroke-width="1.0"/>
<rect x="123.66" y="331.00" width="6.80" height="56.50" fill="rgb(134,124,62)"/>
<line x1="127.06" y1="324.00" x2="127.06" y2="331.00" stroke="rgb(134,124,62)" stroke-width="1.0"/>
<line x1="125.16" y1="324.00" x2="128.96" y2="324.00" stroke="rgb(134,124,62)" stroke-width="1.0"/>
<rect x="134.34" y="348.00" width="6.80" height="39.50" fill="#000"/>
<rect x="142.04" y="342.80" width="6.80" height="44.70" fill="rgb(218,0,0)"/>
<line x1="145.44" y1="334.70" x2="145.44" y2="342.80" stroke="rgb(218,0,0)" stroke-width="1.0"/>
<line x1="143.54" y1="334.70" x2="147.34" y2="334.70" stroke="rgb(218,0,0)" stroke-width="1.0"/>
<rect x="149.74" y="353.50" width="6.80" height="34.00" fill="#0000ff"/>
<line x1="153.14" y1="346.90" x2="153.14" y2="353.50" stroke="#0000ff" stroke-width="1.0"/>
<line x1="151.24" y1="346.90" x2="155.04" y2="346.90" stroke="#0000ff" stroke-width="1.0"/>
<rect x="157.44" y="339.10" width="6.80" height="48.40" fill="rgb(134,124,62)"/>
<line x1="160.84" y1="330.40" x2="160.84" y2="339.10" stroke="rgb(134,124,62)" stroke-width="1.0"/>
<line x1="158.94" y1="330.40" x2="162.74" y2="330.40" stroke="rgb(134,124,62)" stroke-width="1.0"/>
<rect x="168.12" y="348.00" width="6.80" height="39.50" fill="#000"/>
<rect x="175.82" y="348.50" width="6.80" height="39.00" fill="rgb(218,0,0)"/>
<line x1="179.22" y1="344.50" x2="179.22" y2="348.50" stroke="rgb(218,0,0)" stroke-width="1.0"/>
<line x1="177.32" y1="344.50" x2="181.12" y2="344.50" stroke="rgb(218,0,0)" stroke-width="1.0"/>
<rect x="183.52" y="348.80" width="6.80" height="38.70" fill="#0000ff"/>
<line x1="186.92" y1="344.50" x2="186.92" y2="348.80" stroke="#0000ff" stroke-width="1.0"/>
<line x1="185.02" y1="344.50" x2="188.82" y2="344.50" stroke="#0000ff" stroke-width="1.0"/>
<rect x="191.22" y="362.30" width="6.80" height="25.20" fill="rgb(134,124,62)"/>
<line x1="194.62" y1="355.40" x2="194.62" y2="362.30" stroke="rgb(134,124,62)" stroke-width="1.0"/>
<line x1="192.72" y1="355.40" x2="196.52" y2="355.40" stroke="rgb(134,124,62)" stroke-width="1.0"/>
<rect x="201.90" y="348.00" width="6.80" height="39.50" fill="#000"/>
<rect x="209.60" y="343.80" width="6.80" height="43.70" fill="rgb(218,0,0)"/>
<line x1="213.00" y1="339.40" x2="213.00" y2="343.80" stroke="rgb(218,0,0)" stroke-width="1.0"/>
<line x1="211.10" y1="339.40" x2="214.90" y2="339.40" stroke="rgb(218,0,0)" stroke-width="1.0"/>
<rect x="217.30" y="337.20" width="6.80" height="50.30" fill="#0000ff"/>
<line x1="220.70" y1="333.40" x2="220.70" y2="337.20" stroke="#0000ff" stroke-width="1.0"/>
<line x1="218.80" y1="333.40" x2="222.60" y2="333.40" stroke="#0000ff" stroke-width="1.0"/>
<rect x="225.00" y="342.80" width="6.80" height="44.70" fill="rgb(134,124,62)"/>
<line x1="228.40" y1="337.20" x2="228.40" y2="342.80" stroke="rgb(134,124,62)" stroke-width="1.0"/>
<line x1="226.50" y1="337.20" x2="230.30" y2="337.20" stroke="rgb(134,124,62)" stroke-width="1.0"/>
<rect x="235.68" y="348.00" width="6.80" height="39.50" fill="#000"/>
<rect x="243.38" y="339.10" width="6.80" height="48.40" fill="rgb(218,0,0)"/>
<line x1="246.78" y1="334.40" x2="246.78" y2="339.10" stroke="rgb(218,0,0)" stroke-width="1.0"/>
<line x1="244.88" y1="334.40" x2="248.68" y2="334.40" stroke="rgb(218,0,0)" stroke-width="1.0"/>
<rect x="251.08" y="334.20" width="6.80" height="53.30" fill="#0000ff"/>
<line x1="254.48" y1="322.50" x2="254.48" y2="334.20" stroke="#0000ff" stroke-width="1.0"/>
<line x1="252.58" y1="322.50" x2="256.38" y2="322.50" stroke="#0000ff" stroke-width="1.0"/>
<rect x="258.78" y="340.90" width="6.80" height="46.60" fill="rgb(134,124,62)"/>
<line x1="262.18" y1="328.50" x2="262.18" y2="340.90" stroke="rgb(134,124,62)" stroke-width="1.0"/>
<line x1="260.28" y1="328.50" x2="264.08" y2="328.50" stroke="rgb(134,124,62)" stroke-width="1.0"/>
<rect x="269.46" y="348.00" width="6.80" height="39.50" fill="#000"/>
<rect x="277.16" y="360.10" width="6.80" height="27.40" fill="rgb(218,0,0)"/>
<line x1="280.56" y1="354.50" x2="280.56" y2="360.10" stroke="rgb(218,0,0)" stroke-width="1.0"/>
<line x1="278.66" y1="354.50" x2="282.46" y2="354.50" stroke="rgb(218,0,0)" stroke-width="1.0"/>
<rect x="284.86" y="358.20" width="6.80" height="29.30" fill="#0000ff"/>
<line x1="288.26" y1="352.60" x2="288.26" y2="358.20" stroke="#0000ff" stroke-width="1.0"/>
<line x1="286.36" y1="352.60" x2="290.16" y2="352.60" stroke="#0000ff" stroke-width="1.0"/>
<rect x="292.56" y="357.80" width="6.80" height="29.70" fill="rgb(134,124,62)"/>
<line x1="295.96" y1="353.90" x2="295.96" y2="357.80" stroke="rgb(134,124,62)" stroke-width="1.0"/>
<line x1="294.06" y1="353.90" x2="297.86" y2="353.90" stroke="rgb(134,124,62)" stroke-width="1.0"/>
<rect x="303.24" y="348.00" width="6.80" height="39.50" fill="#000"/>
<rect x="310.94" y="346.00" width="6.80" height="41.50" fill="rgb(218,0,0)"/>
<line x1="314.34" y1="343.20" x2="314.34" y2="346.00" stroke="rgb(218,0,0)" stroke-width="1.0"/>
<line x1="312.44" y1="343.20" x2="316.24" y2="343.20" stroke="rgb(218,0,0)" stroke-width="1.0"/>
<rect x="318.64" y="345.60" width="6.80" height="41.90" fill="#0000ff"/>
<line x1="322.04" y1="340.40" x2="322.04" y2="345.60" stroke="#0000ff" stroke-width="1.0"/>
<line x1="320.14" y1="340.40" x2="323.94" y2="340.40" stroke="#0000ff" stroke-width="1.0"/>
<rect x="326.34" y="346.00" width="6.80" height="41.50" fill="rgb(134,124,62)"/>
<line x1="329.74" y1="339.40" x2="329.74" y2="346.00" stroke="rgb(134,124,62)" stroke-width="1.0"/>
<line x1="327.84" y1="339.40" x2="331.64" y2="339.40" stroke="rgb(134,124,62)" stroke-width="1.0"/>
<rect x="337.02" y="348.00" width="6.80" height="39.50" fill="#000"/>
<rect x="344.72" y="303.50" width="6.80" height="84.00" fill="rgb(218,0,0)"/>
<line x1="348.12" y1="295.10" x2="348.12" y2="303.50" stroke="rgb(218,0,0)" stroke-width="1.0"/>
<line x1="346.22" y1="295.10" x2="350.02" y2="295.10" stroke="rgb(218,0,0)" stroke-width="1.0"/>
<rect x="352.42" y="331.00" width="6.80" height="56.50" fill="#0000ff"/>
<line x1="355.82" y1="311.30" x2="355.82" y2="331.00" stroke="#0000ff" stroke-width="1.0"/>
<line x1="353.92" y1="311.30" x2="357.72" y2="311.30" stroke="#0000ff" stroke-width="1.0"/>
<rect x="360.12" y="259.70" width="6.80" height="127.80" fill="rgb(134,124,62)"/>
<line x1="363.52" y1="258.40" x2="363.52" y2="259.70" stroke="rgb(134,124,62)" stroke-width="1.0"/>
<line x1="361.62" y1="258.40" x2="365.42" y2="258.40" stroke="rgb(134,124,62)" stroke-width="1.0"/>
<rect x="370.80" y="348.00" width="6.80" height="39.50" fill="#000"/>
<rect x="378.50" y="351.10" width="6.80" height="36.40" fill="rgb(218,0,0)"/>
<line x1="381.90" y1="346.60" x2="381.90" y2="351.10" stroke="rgb(218,0,0)" stroke-width="1.0"/>
<line x1="380.00" y1="346.60" x2="383.80" y2="346.60" stroke="rgb(218,0,0)" stroke-width="1.0"/>
<rect x="386.20" y="353.90" width="6.80" height="33.60" fill="#0000ff"/>
<line x1="389.60" y1="345.50" x2="389.60" y2="353.90" stroke="#0000ff" stroke-width="1.0"/>
<line x1="387.70" y1="345.50" x2="391.50" y2="345.50" stroke="#0000ff" stroke-width="1.0"/>
<rect x="393.90" y="357.30" width="6.80" height="30.20" fill="rgb(134,124,62)"/>
<line x1="397.30" y1="347.50" x2="397.30" y2="357.30" stroke="rgb(134,124,62)" stroke-width="1.0"/>
<line x1="395.40" y1="347.50" x2="399.20" y2="347.50" stroke="rgb(134,124,62)" stroke-width="1.0"/>
<path d="M76.03 324.90L79.73 324.90M76.96 323.30L78.81 326.50M78.81 323.30L76.96 326.50" stroke="#000" stroke-width="0.85" fill="none"/>
<path d="M192.77 346.20L196.47 346.20M193.69 344.60L195.55 347.80M195.55 344.60L193.69 347.80" stroke="#000" stroke-width="0.85" fill="none"/>
<path d="M192.77 350.50L196.47 350.50M193.69 348.90L195.55 352.10M195.55 348.90L193.69 352.10" stroke="#000" stroke-width="0.85" fill="none"/>
<path d="M346.27 288.20L349.97 288.20M347.19 286.60L349.04 289.80M349.04 286.60L347.19 289.80" stroke="#000" stroke-width="0.85" fill="none"/>
<path d="M361.67 244.05L365.37 244.05M362.59 242.45L364.44 245.65M364.44 242.45L362.59 245.65" stroke="#000" stroke-width="0.85" fill="none"/>
<path d="M361.67 248.35L365.37 248.35M362.59 246.75L364.44 249.95M364.44 246.75L362.59 249.95" stroke="#000" stroke-width="0.85" fill="none"/>
<path d="M361.67 252.65L365.37 252.65M362.59 251.05L364.44 254.25M364.44 251.05L362.59 254.25" stroke="#000" stroke-width="0.85" fill="none"/>
<rect x="359.00" y="278.80" width="9.00" height="9.20" fill="#fff"/>
<line x1="31.20" y1="253.40" x2="31.20" y2="279.80" stroke="#000" stroke-width="1.6"/>
<line x1="31.20" y1="286.30" x2="31.20" y2="388.30" stroke="#000" stroke-width="1.6"/>
<line x1="30.40" y1="387.60" x2="404.80" y2="387.60" stroke="#000" stroke-width="1.6"/>
<text x="25.00" y="257.90" font-size="10.3" text-anchor="end">50</text>
<text x="25.00" y="283.10" font-size="10.3" text-anchor="end">10</text>
<text x="25.00" y="294.70" font-size="10.3" text-anchor="end">2.5</text>
<text x="25.00" y="311.90" font-size="10.3" text-anchor="end">2</text>
<text x="25.00" y="351.70" font-size="10.3" text-anchor="end">1</text>
<text x="25.00" y="391.30" font-size="10.3" text-anchor="end">0</text>
<line x1="26.30" y1="253.40" x2="31.20" y2="253.40" stroke="#000" stroke-width="1.4"/>
<line x1="26.30" y1="308.20" x2="31.20" y2="308.20" stroke="#000" stroke-width="1.4"/>
<line x1="26.30" y1="348.00" x2="31.20" y2="348.00" stroke="#000" stroke-width="1.4"/>
<line x1="26.30" y1="387.60" x2="31.20" y2="387.60" stroke="#000" stroke-width="1.4"/>
<line x1="48.20" y1="387.60" x2="48.20" y2="390.80" stroke="#000" stroke-width="1.6"/>
<text x="49.70" y="396.10" font-size="10.8" text-anchor="end" transform="rotate(-90 49.70 396.10)">OAT2</text>
<line x1="81.98" y1="387.60" x2="81.98" y2="390.80" stroke="#000" stroke-width="1.6"/>
<text x="86.88" y="396.10" font-size="10.8" text-anchor="end" transform="rotate(-90 86.88 396.10)">OATP1B1</text>
<line x1="115.76" y1="387.60" x2="115.76" y2="390.80" stroke="#000" stroke-width="1.6"/>
<text x="120.66" y="396.10" font-size="10.8" text-anchor="end" transform="rotate(-90 120.66 396.10)">OATP1B3</text>
<line x1="149.54" y1="387.60" x2="149.54" y2="390.80" stroke="#000" stroke-width="1.6"/>
<text x="154.44" y="396.10" font-size="10.8" text-anchor="end" transform="rotate(-90 154.44 396.10)">OATP2B1</text>
<line x1="183.32" y1="387.60" x2="183.32" y2="390.80" stroke="#000" stroke-width="1.6"/>
<text x="188.22" y="396.10" font-size="10.8" text-anchor="end" transform="rotate(-90 188.22 396.10)">OCT1</text>
<line x1="217.10" y1="387.60" x2="217.10" y2="390.80" stroke="#000" stroke-width="1.6"/>
<text x="222.00" y="396.10" font-size="10.8" text-anchor="end" transform="rotate(-90 222.00 396.10)">OCT3</text>
<line x1="250.88" y1="387.60" x2="250.88" y2="390.80" stroke="#000" stroke-width="1.6"/>
<text x="255.58" y="396.10" font-size="10.8" text-anchor="end" transform="rotate(-90 255.58 396.10)">NTCP</text>
<line x1="284.66" y1="387.60" x2="284.66" y2="390.80" stroke="#000" stroke-width="1.6"/>
<text x="288.86" y="396.10" font-size="10.8" text-anchor="end" transform="rotate(-90 288.86 396.10)">ENT1</text>
<line x1="318.44" y1="387.60" x2="318.44" y2="390.80" stroke="#000" stroke-width="1.6"/>
<text x="321.14" y="396.10" font-size="10.8" text-anchor="end" transform="rotate(-90 321.14 396.10)">OAT7</text>
<line x1="352.22" y1="387.60" x2="352.22" y2="390.80" stroke="#000" stroke-width="1.6"/>
<text x="356.52" y="396.10" font-size="10.8" text-anchor="end" transform="rotate(-90 356.52 396.10)">OST&#945;</text>
<line x1="386.00" y1="387.60" x2="386.00" y2="390.80" stroke="#000" stroke-width="1.6"/>
<text x="390.60" y="396.10" font-size="10.8" text-anchor="end" transform="rotate(-90 390.60 396.10)">MATE1</text>
<line x1="28.50" y1="282.20" x2="34.40" y2="277.50" stroke="#000" stroke-width="1.5"/>
<line x1="28.50" y1="288.80" x2="34.40" y2="284.10" stroke="#000" stroke-width="1.5"/>
<text x="9.00" y="333.40" font-size="10.8" text-anchor="middle" transform="rotate(-90 9.00 333.40)">Fold Change</text>
<text x="0.80" y="243.40" font-size="16" text-anchor="start">C</text>
<rect x="489.80" y="346.50" width="8.90" height="40.20" fill="#000"/>
<rect x="499.20" y="346.80" width="8.90" height="39.90" fill="rgb(218,0,0)"/>
<line x1="503.65" y1="345.20" x2="503.65" y2="346.80" stroke="rgb(218,0,0)" stroke-width="1.0"/>
<line x1="501.35" y1="345.20" x2="505.95" y2="345.20" stroke="rgb(218,0,0)" stroke-width="1.0"/>
<rect x="508.80" y="341.00" width="8.90" height="45.70" fill="#0000ff"/>
<line x1="513.25" y1="335.30" x2="513.25" y2="341.00" stroke="#0000ff" stroke-width="1.0"/>
<line x1="510.95" y1="335.30" x2="515.55" y2="335.30" stroke="#0000ff" stroke-width="1.0"/>
<rect x="518.80" y="342.20" width="8.90" height="44.50" fill="rgb(134,124,62)"/>
<line x1="523.25" y1="336.40" x2="523.25" y2="342.20" stroke="rgb(134,124,62)" stroke-width="1.0"/>
<line x1="520.95" y1="336.40" x2="525.55" y2="336.40" stroke="rgb(134,124,62)" stroke-width="1.0"/>
<rect x="533.20" y="346.50" width="8.90" height="40.20" fill="#000"/>
<rect x="542.60" y="338.60" width="8.90" height="48.10" fill="rgb(218,0,0)"/>
<line x1="547.05" y1="333.20" x2="547.05" y2="338.60" stroke="rgb(218,0,0)" stroke-width="1.0"/>
<line x1="544.75" y1="333.20" x2="549.35" y2="333.20" stroke="rgb(218,0,0)" stroke-width="1.0"/>
<rect x="552.20" y="335.30" width="8.90" height="51.40" fill="#0000ff"/>
<line x1="556.65" y1="334.70" x2="556.65" y2="335.30" stroke="#0000ff" stroke-width="1.0"/>
<line x1="554.35" y1="334.70" x2="558.95" y2="334.70" stroke="#0000ff" stroke-width="1.0"/>
<rect x="562.20" y="352.00" width="8.90" height="34.70" fill="rgb(134,124,62)"/>
<line x1="566.65" y1="350.10" x2="566.65" y2="352.00" stroke="rgb(134,124,62)" stroke-width="1.0"/>
<line x1="564.35" y1="350.10" x2="568.95" y2="350.10" stroke="rgb(134,124,62)" stroke-width="1.0"/>
<rect x="576.60" y="346.50" width="8.90" height="40.20" fill="#000"/>
<rect x="586.00" y="353.00" width="8.90" height="33.70" fill="rgb(218,0,0)"/>
<line x1="590.45" y1="350.50" x2="590.45" y2="353.00" stroke="rgb(218,0,0)" stroke-width="1.0"/>
<line x1="588.15" y1="350.50" x2="592.75" y2="350.50" stroke="rgb(218,0,0)" stroke-width="1.0"/>
<rect x="595.60" y="354.70" width="8.90" height="32.00" fill="#0000ff"/>
<line x1="600.05" y1="348.90" x2="600.05" y2="354.70" stroke="#0000ff" stroke-width="1.0"/>
<line x1="597.75" y1="348.90" x2="602.35" y2="348.90" stroke="#0000ff" stroke-width="1.0"/>
<rect x="605.60" y="271.90" width="8.90" height="114.80" fill="rgb(134,124,62)"/>
<line x1="610.05" y1="256.30" x2="610.05" y2="271.90" stroke="rgb(134,124,62)" stroke-width="1.0"/>
<line x1="607.75" y1="256.30" x2="612.35" y2="256.30" stroke="rgb(134,124,62)" stroke-width="1.0"/>
<rect x="620.00" y="346.50" width="8.90" height="40.20" fill="#000"/>
<rect x="629.40" y="331.90" width="8.90" height="54.80" fill="rgb(218,0,0)"/>
<line x1="633.85" y1="328.40" x2="633.85" y2="331.90" stroke="rgb(218,0,0)" stroke-width="1.0"/>
<line x1="631.55" y1="328.40" x2="636.15" y2="328.40" stroke="rgb(218,0,0)" stroke-width="1.0"/>
<rect x="639.00" y="340.70" width="8.90" height="46.00" fill="#0000ff"/>
<line x1="643.45" y1="338.20" x2="643.45" y2="340.70" stroke="#0000ff" stroke-width="1.0"/>
<line x1="641.15" y1="338.20" x2="645.75" y2="338.20" stroke="#0000ff" stroke-width="1.0"/>
<rect x="649.00" y="348.20" width="8.90" height="38.50" fill="rgb(134,124,62)"/>
<line x1="653.45" y1="346.50" x2="653.45" y2="348.20" stroke="rgb(134,124,62)" stroke-width="1.0"/>
<line x1="651.15" y1="346.50" x2="655.75" y2="346.50" stroke="rgb(134,124,62)" stroke-width="1.0"/>
<rect x="663.40" y="346.50" width="8.90" height="40.20" fill="#000"/>
<rect x="672.80" y="295.10" width="8.90" height="91.60" fill="rgb(218,0,0)"/>
<line x1="677.25" y1="288.00" x2="677.25" y2="295.10" stroke="rgb(218,0,0)" stroke-width="1.0"/>
<line x1="674.95" y1="288.00" x2="679.55" y2="288.00" stroke="rgb(218,0,0)" stroke-width="1.0"/>
<rect x="682.40" y="343.20" width="8.90" height="43.50" fill="#0000ff"/>
<line x1="686.85" y1="338.20" x2="686.85" y2="343.20" stroke="#0000ff" stroke-width="1.0"/>
<line x1="684.55" y1="338.20" x2="689.15" y2="338.20" stroke="#0000ff" stroke-width="1.0"/>
<rect x="692.40" y="325.70" width="8.90" height="61.00" fill="rgb(134,124,62)"/>
<line x1="696.85" y1="317.60" x2="696.85" y2="325.70" stroke="rgb(134,124,62)" stroke-width="1.0"/>
<line x1="694.55" y1="317.60" x2="699.15" y2="317.60" stroke="rgb(134,124,62)" stroke-width="1.0"/>
<path d="M554.80 330.40L558.50 330.40M555.73 328.80L557.57 332.00M557.57 328.80L555.73 332.00" stroke="#000" stroke-width="0.85" fill="none"/>
<path d="M608.20 241.35L611.90 241.35M609.12 239.75L610.97 242.95M610.97 239.75L609.12 242.95" stroke="#000" stroke-width="0.85" fill="none"/>
<path d="M608.20 245.65L611.90 245.65M609.12 244.05L610.97 247.25M610.97 244.05L609.12 247.25" stroke="#000" stroke-width="0.85" fill="none"/>
<path d="M608.20 249.95L611.90 249.95M609.12 248.35L610.97 251.55M610.97 248.35L609.12 251.55" stroke="#000" stroke-width="0.85" fill="none"/>
<path d="M632.00 315.10L635.70 315.10M632.92 313.50L634.77 316.70M634.77 313.50L632.92 316.70" stroke="#000" stroke-width="0.85" fill="none"/>
<path d="M632.00 319.40L635.70 319.40M632.92 317.80L634.77 321.00M634.77 317.80L632.92 321.00" stroke="#000" stroke-width="0.85" fill="none"/>
<path d="M632.00 323.70L635.70 323.70M632.92 322.10L634.77 325.30M634.77 322.10L632.92 325.30" stroke="#000" stroke-width="0.85" fill="none"/>
<path d="M675.40 274.85L679.10 274.85M676.33 273.25L678.17 276.45M678.17 273.25L676.33 276.45" stroke="#000" stroke-width="0.85" fill="none"/>
<path d="M675.40 279.15L679.10 279.15M676.33 277.55L678.17 280.75M678.17 277.55L676.33 280.75" stroke="#000" stroke-width="0.85" fill="none"/>
<path d="M675.40 283.45L679.10 283.45M676.33 281.85L678.17 285.05M678.17 281.85L676.33 285.05" stroke="#000" stroke-width="0.85" fill="none"/>
<path d="M695.00 313.25L698.70 313.25M695.93 311.65L697.77 314.85M697.77 311.65L695.93 314.85" stroke="#000" stroke-width="0.85" fill="none"/>
<rect x="604.00" y="279.70" width="12.00" height="6.80" fill="#fff"/>
<line x1="487.00" y1="255.00" x2="487.00" y2="280.50" stroke="#000" stroke-width="1.6"/>
<line x1="487.00" y1="286.00" x2="487.00" y2="387.50" stroke="#000" stroke-width="1.6"/>
<line x1="486.20" y1="386.80" x2="706.50" y2="386.80" stroke="#000" stroke-width="1.6"/>
<text x="480.20" y="258.70" font-size="10.3" text-anchor="end">5</text>
<text x="480.20" y="275.70" font-size="10.3" text-anchor="end">4</text>
<text x="480.20" y="290.90" font-size="10.3" text-anchor="end">2.5</text>
<text x="480.20" y="310.30" font-size="10.3" text-anchor="end">2</text>
<text x="480.20" y="350.20" font-size="10.3" text-anchor="end">1</text>
<text x="480.20" y="390.50" font-size="10.3" text-anchor="end">0</text>
<line x1="482.40" y1="255.00" x2="487.00" y2="255.00" stroke="#000" stroke-width="1.4"/>
<line x1="482.40" y1="272.00" x2="487.00" y2="272.00" stroke="#000" stroke-width="1.4"/>
<line x1="482.40" y1="306.60" x2="487.00" y2="306.60" stroke="#000" stroke-width="1.4"/>
<line x1="482.40" y1="346.50" x2="487.00" y2="346.50" stroke="#000" stroke-width="1.4"/>
<line x1="482.40" y1="386.80" x2="487.00" y2="386.80" stroke="#000" stroke-width="1.4"/>
<line x1="508.40" y1="386.80" x2="508.40" y2="390.00" stroke="#000" stroke-width="1.6"/>
<text x="511.40" y="395.60" font-size="10.8" text-anchor="end" transform="rotate(-90 511.40 395.60)">MRP3</text>
<line x1="551.80" y1="386.80" x2="551.80" y2="390.00" stroke="#000" stroke-width="1.6"/>
<text x="555.00" y="395.60" font-size="10.8" text-anchor="end" transform="rotate(-90 555.00 395.60)">BCRP</text>
<line x1="595.20" y1="386.80" x2="595.20" y2="390.00" stroke="#000" stroke-width="1.6"/>
<text x="599.70" y="395.60" font-size="10.8" text-anchor="end" transform="rotate(-90 599.70 395.60)">BSEP</text>
<line x1="638.60" y1="386.80" x2="638.60" y2="390.00" stroke="#000" stroke-width="1.6"/>
<text x="644.30" y="395.60" font-size="10.8" text-anchor="end" transform="rotate(-90 644.30 395.60)">MRP2</text>
<line x1="682.00" y1="386.80" x2="682.00" y2="390.00" stroke="#000" stroke-width="1.6"/>
<text x="688.80" y="395.60" font-size="10.8" text-anchor="end" transform="rotate(-90 688.80 395.60)">P-GP</text>
<line x1="484.40" y1="282.00" x2="490.00" y2="278.80" stroke="#000" stroke-width="1.5"/>
<line x1="484.40" y1="288.20" x2="490.00" y2="283.60" stroke="#000" stroke-width="1.5"/>
<text x="464.80" y="331.30" font-size="10.8" text-anchor="middle" transform="rotate(-90 464.80 331.30)">Fold Change</text>
<text x="448.40" y="243.50" font-size="16" text-anchor="start">D</text>
<rect x="267.50" y="465.20" width="15.30" height="12.10" fill="#000"/>
<text x="288.10" y="475.50" font-size="12.5" text-anchor="start">Control</text>
<rect x="349.70" y="465.20" width="15.30" height="12.10" fill="rgb(218,0,0)"/>
<text x="369.80" y="475.50" font-size="12.5" text-anchor="start">RIF</text>
<rect x="407.50" y="465.20" width="15.30" height="12.10" fill="#0000ff"/>
<text x="428.50" y="475.50" font-size="12.5" text-anchor="start">CITCO</text>
<rect x="482.40" y="465.20" width="15.30" height="12.10" fill="rgb(128,128,34)"/>
<text x="503.10" y="475.50" font-size="12.5" text-anchor="start">CDCA</text>
</svg>
</body></html>
